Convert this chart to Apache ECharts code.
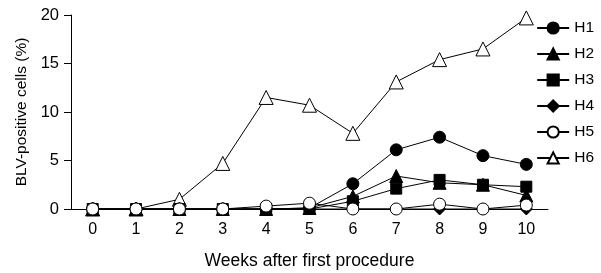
<!DOCTYPE html>
<html><head><meta charset="utf-8">
<script src="https://cdn.jsdelivr.net/npm/echarts@6/dist/echarts.min.js"></script>
<style>html,body{margin:0;padding:0;background:#fff}#c{width:601px;height:273px}</style>
</head><body><div id="c"></div>
<script>
const weeks = ['0','1','2','3','4','5','6','7','8','9','10'];
const H1 = [0,0,0,0,0,0.1,2.6,6.1,7.4,5.5,4.6];
const H2 = [0,0,0,0,0,0.1,1.3,3.4,2.7,2.5,1.4];
const H3 = [0,0,0,0,0,0,0.8,2.1,3.0,2.5,2.3];
const H4 = [0,0,0,0,0,0,0,0,0,0,0];
const H5 = [0,0,0,0,0.3,0.6,0,0,0.5,0,0.4];
const H6 = [0,0,1.0,4.7,11.5,10.7,7.8,13.1,15.4,16.5,19.7];
const yTicks = [0,5,10,15,20];

const font = 'Liberation Sans, Arial, sans-serif';
function s(name, data, symbol, fill, size){
  return {name, type:'line', data, symbol, symbolSize:size, showSymbol:true,
    lineStyle:{color:'#000',width:1}, itemStyle:{color:fill,borderColor:'#000',borderWidth:1},
    emphasis:{disabled:true}, animation:false};
}
const chart = echarts.init(document.getElementById('c'));
chart.setOption({
  animation:false,
  grid:{left:71,right:53,top:15,bottom:64,outerBoundsMode:'none',containLabel:false},
  legend:{orient:'vertical',right:2,top:15,itemGap:10,itemWidth:32,itemHeight:14,
    textStyle:{fontFamily:font,fontSize:15.5,color:'#000'},
    data:['H1','H2','H3','H4','H5','H6']},
  xAxis:{type:'category',data:weeks,boundaryGap:true,
    name:'Weeks after first procedure',nameLocation:'middle',nameGap:43,
    nameTextStyle:{fontFamily:font,fontSize:17.5,color:'#000'},
    axisLine:{lineStyle:{color:'#000',width:1}},
    axisTick:{inside:true,length:5,alignWithLabel:false,lineStyle:{color:'#000'}},
    axisLabel:{fontFamily:font,fontSize:16,color:'#000',margin:13}},
  yAxis:{type:'value',min:0,max:20,interval:5,
    name:'BLV-positive cells (%)',nameLocation:'middle',nameGap:36,
    nameTextStyle:{fontFamily:font,fontSize:15.5,color:'#000'},
    axisLine:{show:true,lineStyle:{color:'#000',width:1}},
    axisTick:{show:true,inside:false,length:7,lineStyle:{color:'#000'}},
    splitLine:{show:false},
    axisLabel:{fontFamily:font,fontSize:16.5,color:'#000',margin:12,
      formatter:v=>yTicks.includes(v)?String(v):''}},
  series:[
    s('H6',H6,'triangle','#fff',14),
    s('H4',H4,'diamond','#000',12),
    s('H3',H3,'rect','#000',11),
    s('H2',H2,'triangle','#000',13),
    s('H1',H1,'circle','#000',12),
    s('H5',H5,'circle','#fff',12)
  ]
});
</script></body></html>
